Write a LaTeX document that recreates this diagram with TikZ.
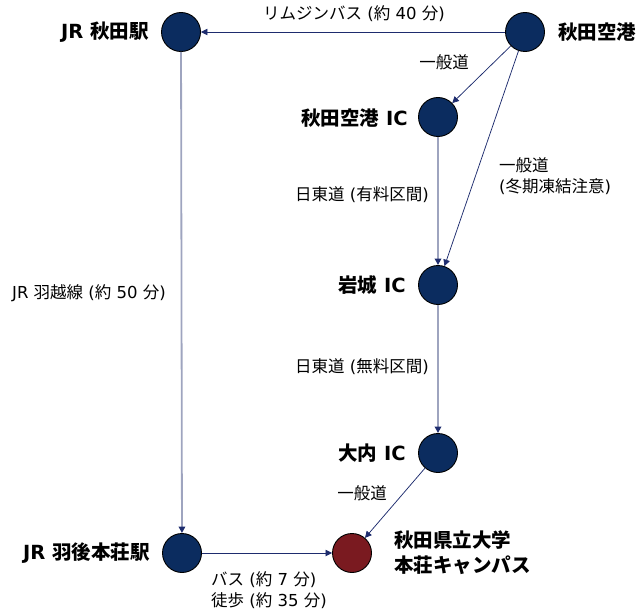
\documentclass[tikz,border=0pt]{standalone}
\usepackage{fontspec}
\setmainfont{Noto Sans CJK JP}
\newfontfamily\dv{DejaVu Sans}
\usetikzlibrary{arrows.meta}
\definecolor{navyfill}{HTML}{0B2C5F}
\definecolor{redfill}{HTML}{7A1A20}
\definecolor{navyline}{HTML}{1E2C6E}
\definecolor{grayline}{HTML}{9EA4BF}
\newcommand{\lt}[1]{{\dv #1}}
\tikzset{
  stop/.style={circle,draw=black,line width=0.9pt,fill=navyfill,minimum size=39pt,inner sep=0pt},
  campus/.style={stop,fill=redfill},
  nlabel/.style={font=\fontsize{19.5}{25}\selectfont\bfseries,inner sep=0pt,align=left},
  elabel/.style={font=\fontsize{16.5}{21}\selectfont,inner sep=0pt,align=left},
  tip/.style={-{Triangle[length=6.5pt,width=6.5pt,color=navyline]}},
  road/.style={tip,draw=navyline,line width=0.75pt},
  express/.style={tip,draw=grayline,line width=1.8pt},
}
\begin{document}
\begin{tikzpicture}[x=1pt,y=-1pt]
\useasboundingbox (0,0) rectangle (640,610);
% stops
\node[stop] (akita) at (181,32) {};
\node[stop] (airport) at (525,32) {};
\node[stop] (aic) at (438,117) {};
\node[stop] (iwaki) at (438,285) {};
\node[stop] (ouchi) at (438,453) {};
\node[stop] (ugo) at (182,553) {};
\node[campus] (univ) at (352,553) {};
% node labels
\node[nlabel,anchor=east] (lakita) at (149,32) {\lt{JR }秋田駅};
\node[nlabel,anchor=west] (lairport) at (558,32) {秋田空港};
\node[nlabel,anchor=east] (laic) at (408,118) {秋田空港\lt{ IC}};
\node[nlabel,anchor=east] (liwaki) at (406,285) {岩城\lt{ IC}};
\node[nlabel,anchor=east] (louchi) at (406,453) {大内\lt{ IC}};
\node[nlabel,anchor=east] (lugo) at (150,553) {\lt{JR }羽後本荘駅};
\node[nlabel,anchor=west] (luniv) at (394,553) {秋田県立大学\\本荘キャンパス};
% edges
\draw[road] (airport) -- (akita);
\draw[road] (airport) -- (aic);
\draw[road] (airport) -- (iwaki);
\draw[express] (aic) -- (iwaki);
\draw[express] (iwaki) -- (ouchi);
\draw[express] (akita) -- (ugo);
\draw[road] (ouchi) -- (univ);
\draw[road] (ugo) -- (univ);
% edge labels
\node[elabel] (e1) at (354,14) {リムジンバス\lt{ (}約\lt{ 40 }分\lt{)}};
\node[elabel] (e2) at (444,62) {一般道};
\node[elabel,anchor=west] (e3) at (499,176) {一般道\\\lt{(}冬期凍結注意\lt{)}};
\node[elabel] (e4) at (362,195) {日東道\lt{ (}有料区間\lt{)}};
\node[elabel] (e5) at (89,293) {\lt{JR }羽越線\lt{ (}約\lt{ 50 }分\lt{)}};
\node[elabel] (e6) at (362,367) {日東道\lt{ (}無料区間\lt{)}};
\node[elabel] (e7) at (362,493) {一般道};
\node[elabel,anchor=west] (e8) at (211,590) {バス\lt{ (}約\lt{ 7 }分\lt{)}\\徒歩\lt{ (}約\lt{ 35 }分\lt{)}};
\end{tikzpicture}
\end{document}
